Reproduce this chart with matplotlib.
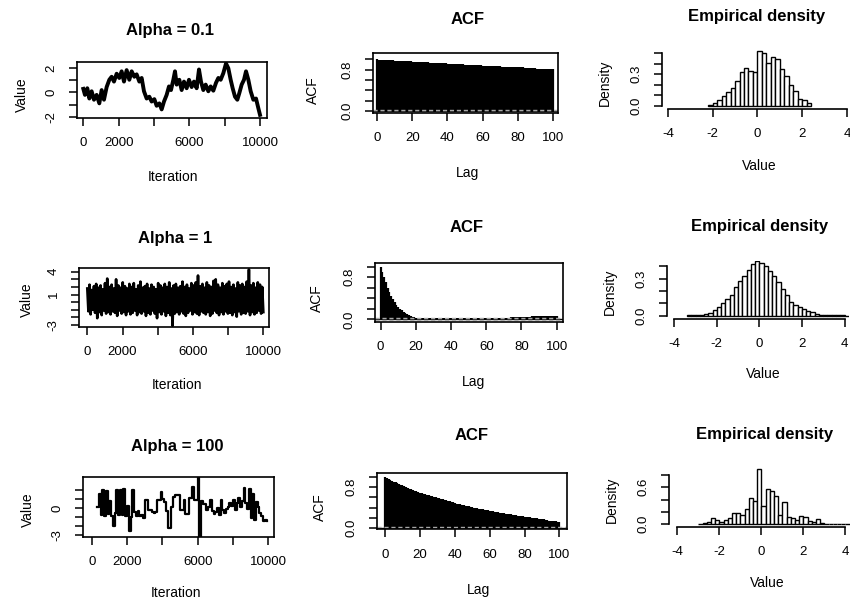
import numpy as np
import matplotlib
matplotlib.use("Agg")
import matplotlib.pyplot as plt

plt.rcParams["font.family"] = ["Liberation Sans", "DejaVu Sans"]
plt.rcParams["axes.linewidth"] = 1.2

# ---------------- data ----------------
row_titles = ["Alpha = 0.1", "Alpha = 1", "Alpha = 100"]

# trace, alpha = 0.1
trace_a01_iter = [0, 94, 226, 340, 472, 604, 755, 906, 1038, 1170,
                  1321, 1472, 1604, 1736, 1887, 2038, 2170, 2302, 2453, 2604,
                  2736, 2887, 3019, 3170, 3302, 3434, 3585, 3736, 3868, 4019,
                  4151, 4302, 4434, 4566, 4717, 4849, 4962, 5095, 5189, 5283,
                  5434, 5566, 5698, 5849, 5981, 6132, 6264, 6415, 6547, 6660,
                  6792, 6925, 7076, 7208, 7359, 7510, 7642, 7774, 7925, 8076,
                  8208, 8340, 8453, 8585, 8717, 8830, 8962, 9094, 9208, 9340,
                  9472, 9623, 9774, 9906, 10000]
trace_a01_value = [0.3, -0.2, 0.35, -0.5, 0.1, -0.6, -0.2, -0.9, 0.2, -0.6,
                   0.45, 1.05, 1.3, 0.9, 1.55, 1.2, 1.75, 0.9, 1.85, 1.05,
                   1.75, 1.3, 1.5, 0.9, 1.2, 0.1, -0.5, -0.35, -0.75, -0.55,
                   -1.1, -0.9, -1.4, -0.75, -0.2, 0.5, 0.2, 1.05, 1.75, 0.65,
                   1.05, 0.2, 0.9, 0.35, 1.05, 0.45, 0.9, 0.35, 1.9, 0.9,
                   0.2, 0.65, 0.1, 0.5, 0.15, 0.8, 1.2, 1.05, 1.6, 2.4,
                   2.0, 1.05, 0.35, -0.35, -0.6, -0.05, 0.65, 1.05, 1.75, 1.05,
                   0.1, -0.6, -0.5, -1.3, -1.85]

# trace, alpha = 1 (dense band: successive highs and lows)
trace_a1_upper = [1.8, 2.3, 1.6, 2.1, 2.4, 1.9, 2.2, 1.7, 2.5, 3.1,
                  2.0, 2.3, 1.8, 3.0, 2.2, 1.9, 2.6, 2.1, 1.8, 2.4,
                  2.0, 2.5, 1.7, 2.2, 2.7, 1.9, 2.1, 2.4, 1.8, 2.3,
                  2.0, 1.7, 2.5, 2.2, 1.9, 2.4, 2.0, 2.6, 1.8, 2.2,
                  2.4, 1.9, 2.1, 2.7, 2.0, 2.3, 1.8, 2.5, 2.2, 2.6,
                  3.5, 2.1, 2.4, 1.9, 2.6, 2.2, 2.0, 2.8, 3.0, 2.3,
                  1.9, 2.5, 2.1, 2.4, 2.7, 2.0, 2.3, 1.8, 2.6, 2.2,
                  2.4, 2.0, 2.7, 4.3, 2.2, 2.5, 1.9, 2.6, 2.3, 2.0]
trace_a1_lower = [-1.2, -1.6, -1.0, -1.4, -2.1, -1.3, -1.7, -1.1, -1.5, -1.3,
                  -1.6, -1.2, -1.4, -1.8, -1.1, -1.5, -1.3, -1.7, -1.2, -1.6,
                  -1.4, -1.1, -1.7, -1.3, -1.5, -1.2, -1.8, -1.4, -1.6, -1.1,
                  -1.5, -2.1, -1.3, -1.6, -1.2, -1.8, -1.4, -1.7, -3.1, -1.5,
                  -1.3, -1.6, -1.2, -1.5, -1.8, -1.4, -1.1, -1.6, -1.3, -1.5,
                  -1.7, -1.2, -1.4, -1.6, -1.3, -1.8, -1.5, -1.1, -1.4, -1.7,
                  -1.3, -1.6, -1.2, -1.5, -1.4, -1.7, -1.3, -1.9, -1.2, -1.6,
                  -1.4, -1.5, -1.2, -1.7, -1.3, -1.6, -1.4, -1.1, -1.5, -1.3]

# trace, alpha = 100 (sticky chain, one value per 100 iterations from 300)
trace_a100_start = 300
trace_a100_step = 100
trace_a100_value = [0.2, 1.6, -0.7, 2.0, -0.9, 1.9, -0.6, 0.8, -0.9, -2.0,
                    -0.5, 2.0, -0.7, 2.1, -0.8, 2.2, -0.9, 0.3, -2.6, -1.0,
                    2.0, -0.4, -0.9, -0.3, -0.9, -0.8, -1.1, 0.9, 0.9, -0.2,
                    -0.2, -0.4, -0.5, -0.4, 0.9, 0.9, 1.8, 1.0, 0.7, -0.3,
                    -2.2, -2.2, 0.2, 1.3, 1.5, 1.5, 1.5, -0.2, -0.2, 0.9,
                    -0.6, -0.6, 1.1, 1.1, 2.4, 0.9, 0.9, 5.0, -5.0, 0.8,
                    0.5, 0.5, -0.2, 0.2, 0.9, -0.3, -0.6, -0.4, 0.0, -0.7,
                    0.9, -0.2, -0.5, -0.1, 0.1, 0.6, 0.3, 0.9, -0.2, 0.6,
                    1.2, 0.2, 0.8, 2.3, 0.6, -0.1, 2.2, -1.1, 1.6, -1.3,
                    0.7, 0.2, -0.5, -0.9, -1.4, -1.3, -1.4]

# autocorrelations, lags 0..100
acf_a01 = [1.00, 0.99, 0.99, 0.99, 0.99, 0.98, 0.98, 0.98, 0.98, 0.98,
           0.97, 0.97, 0.97, 0.97, 0.97, 0.96, 0.96, 0.96, 0.96, 0.96,
           0.95, 0.95, 0.95, 0.95, 0.95, 0.94, 0.94, 0.94, 0.94, 0.94,
           0.93, 0.93, 0.93, 0.93, 0.93, 0.92, 0.92, 0.92, 0.92, 0.92,
           0.91, 0.91, 0.91, 0.91, 0.91, 0.90, 0.90, 0.90, 0.90, 0.90,
           0.89, 0.89, 0.89, 0.89, 0.89, 0.88, 0.88, 0.88, 0.88, 0.88,
           0.87, 0.87, 0.87, 0.87, 0.87, 0.86, 0.86, 0.86, 0.86, 0.86,
           0.86, 0.85, 0.85, 0.85, 0.85, 0.85, 0.85, 0.84, 0.84, 0.84,
           0.84, 0.84, 0.84, 0.84, 0.83, 0.83, 0.83, 0.83, 0.83, 0.83,
           0.83, 0.82, 0.82, 0.82, 0.82, 0.82, 0.82, 0.82, 0.81, 0.81,
           0.81]
acf_a1 = [1.00, 0.90, 0.80, 0.70, 0.60, 0.52, 0.45, 0.39, 0.33, 0.28,
          0.24, 0.20, 0.17, 0.14, 0.12, 0.10, 0.08, 0.06, 0.05, 0.04,
          0.03, 0.03, 0.02, 0.02, 0.02, 0.02, 0.02, 0.02, 0.02, 0.02,
          0.02, 0.02, 0.02, 0.02, 0.02, 0.02, 0.03, 0.03, 0.03, 0.03,
          0.03, 0.03, 0.03, 0.03, 0.03, 0.03, 0.03, 0.03, 0.03, 0.03,
          0.03, 0.03, 0.03, 0.03, 0.03, 0.03, 0.03, 0.03, 0.03, 0.03,
          0.03, 0.03, 0.03, 0.03, 0.03, 0.03, 0.03, 0.03, 0.03, 0.03,
          0.03, 0.03, 0.03, 0.03, 0.04, 0.04, 0.04, 0.04, 0.04, 0.04,
          0.05, 0.05, 0.05, 0.05, 0.05, 0.05, 0.06, 0.06, 0.06, 0.06,
          0.06, 0.06, 0.06, 0.06, 0.06, 0.06, 0.06, 0.06, 0.06, 0.06,
          0.06]
acf_a100 = [1.00, 0.97, 0.95, 0.93, 0.92, 0.90, 0.89, 0.87, 0.86, 0.84,
            0.83, 0.81, 0.80, 0.78, 0.77, 0.76, 0.74, 0.73, 0.72, 0.70,
            0.69, 0.68, 0.67, 0.66, 0.65, 0.64, 0.63, 0.62, 0.61, 0.60,
            0.59, 0.58, 0.57, 0.56, 0.55, 0.54, 0.53, 0.52, 0.51, 0.50,
            0.49, 0.48, 0.47, 0.47, 0.46, 0.45, 0.44, 0.43, 0.43, 0.42,
            0.41, 0.40, 0.40, 0.39, 0.38, 0.38, 0.37, 0.36, 0.36, 0.35,
            0.34, 0.34, 0.33, 0.32, 0.32, 0.31, 0.30, 0.30, 0.29, 0.28,
            0.28, 0.27, 0.27, 0.26, 0.25, 0.25, 0.24, 0.24, 0.23, 0.23,
            0.22, 0.22, 0.21, 0.21, 0.20, 0.20, 0.19, 0.19, 0.18, 0.18,
            0.17, 0.17, 0.16, 0.16, 0.15, 0.15, 0.15, 0.14, 0.14, 0.13,
            0.13]

# histograms (bin width 0.2), density heights
hist_bin_width = 0.2
hist_a01_first = -2.2
hist_a01_density = [0.01, 0.025, 0.06, 0.09, 0.13, 0.17, 0.24, 0.32, 0.36, 0.33,
                    0.32, 0.52, 0.50, 0.41, 0.46, 0.44, 0.35, 0.28, 0.20, 0.14,
                    0.07, 0.06, 0.025]
hist_a1_first = -3.4
hist_a1_density = [0.003, 0.004, 0.006, 0.008, 0.012, 0.025, 0.045, 0.07, 0.10, 0.135,
                   0.17, 0.235, 0.28, 0.32, 0.37, 0.42, 0.44, 0.43, 0.40, 0.36,
                   0.32, 0.27, 0.22, 0.17, 0.11, 0.085, 0.07, 0.055, 0.04, 0.027,
                   0.015, 0.008, 0.005, 0.004, 0.003, 0.002, 0.002, 0.001, 0.001, 0.001]
hist_a100_first = -3.0
hist_a100_density = [0.01, 0.015, 0.04, 0.10, 0.07, 0.04, 0.07, 0.11, 0.18, 0.18,
                     0.15, 0.25, 0.42, 0.37, 0.90, 0.29, 0.57, 0.54, 0.46, 0.15,
                     0.36, 0.12, 0.11, 0.07, 0.14, 0.12, 0.05, 0.03, 0.08, 0.015,
                     0.0, 0.0, 0.0, 0.0, 0.0, 0.0, 0.0, 0.0]

# ticks
iter_ticks = [0, 2000, 4000, 6000, 8000, 10000]
iter_labels = ["0", "2000", "", "6000", "", "10000"]
lag_ticks = [0, 20, 40, 60, 80, 100]
acf_yticks = [0.0, 0.2, 0.4, 0.6, 0.8, 1.0]
acf_ylabels = ["0.0", "", "", "", "0.8", ""]
value_ticks = [-4, -2, 0, 2, 4]
trace_yticks = [[-2, -1, 0, 1, 2], [-3, -2, -1, 0, 1, 2, 3, 4], [-3, -2, -1, 0, 1, 2]]
trace_ylabels = [["-2", "", "0", "", "2"],
                 ["-3", "", "", "", "1", "", "", "4"],
                 ["-3", "", "", "0", "", ""]]
hist_yticks = [[0.0, 0.1, 0.2, 0.3, 0.4, 0.5], [0.0, 0.1, 0.2, 0.3, 0.4],
               [0.0, 0.2, 0.4, 0.6, 0.8]]
hist_ylabels = [["0.0", "", "", "0.3", "", ""], ["0.0", "", "", "0.3", ""],
                ["0.0", "", "", "0.6", ""]]

# ---------------- layout (pixels) ----------------
W, H = 850, 601
fig = plt.figure(figsize=(W / 100, H / 100), dpi=100)
fig.patch.set_facecolor("white")

trace_boxes = [(77, 62, 267, 118), (79.3, 268.3, 269.3, 326.7), (83.3, 477.3, 274, 536.7)]
trace_xlims = [(-357, 10396), (-455, 10340), (-475, 10323)]
trace_ylims = [(-2.11, 2.52), (-3.22, 4.45), (-3.19, 3.48)]
trace_title_xy = [(170, 30), (175, 238), (177, 447)]
trace_xlab = [(173, 177), (177, 385), (176, 593)]
trace_ylab = [(22, 95), (27, 300), (28, 510)]

acf_boxes = [(373, 53, 558, 113), (375, 263, 563, 322), (376.7, 472.7, 566.7, 529.3)]
acf_xlims = [(-2.45, 103.0), (-3.2, 103.6), (-4.8, 104.2)]
acf_ylims = [(-0.039, 1.12), (-0.05, 1.07), (-0.02, 1.077)]
acf_title_xy = [(468, 20), (467, 228), (472, 436)]
acf_xlab = [(468, 173), (473, 382), (478, 590)]
acf_ylab = [(313, 90), (317, 298), (320, 507)]

hist_boxes = [(661.7, 50, 850.5, 109), (667, 261.4, 849.2, 318.5), (669.3, 465.7, 849.6, 527)]
hist_xlims = [(-4.28, 4.16), (-4.34, 4.22), (-4.38, 4.2)]
hist_ylims = [(-0.028, 0.528), (-0.023, 0.44), (-0.044, 0.95)]
hist_title_xy = [(757, 17), (760, 227), (765, 435)]
hist_xlab = [(759, 166), (763, 374), (767, 583)]
hist_ylab = [(605, 83), (610, 292), (612, 500)]


def add_px(box):
    l, t, r, b = box
    return fig.add_axes([l / W, 1 - b / H, (r - l) / W, (b - t) / H])


def decorate(ax, box, title, title_xy, xlabel, xlab, ylabel, ylab):
    l, t, r, b = box
    ax.set_title(title, x=(title_xy[0] - l) / (r - l), y=(b - title_xy[1]) / (b - t),
                 pad=0, va="center", fontsize=12, fontweight="bold")
    ax.set_xlabel(xlabel, fontsize=10)
    ax.xaxis.set_label_coords(xlab[0] / W, 1 - xlab[1] / H, transform=fig.transFigure)
    ax.xaxis.label.set_va("center")
    ax.set_ylabel(ylabel, fontsize=10)
    ax.yaxis.set_label_coords(ylab[0] / W, 1 - ylab[1] / H, transform=fig.transFigure)
    ax.yaxis.label.set_va("center")
    ax.tick_params(direction="out", length=6, width=1.1, pad=8, labelsize=9.5)
    for lbl in ax.get_yticklabels():
        lbl.set_rotation(90)
        lbl.set_va("center")


series_a1 = np.column_stack([trace_a1_upper, trace_a1_lower]).ravel()
series_a100 = np.array(trace_a100_value)
traces = [
    (np.array(trace_a01_iter), np.array(trace_a01_value), 2.8, "default"),
    (np.linspace(0, 10000, len(series_a1)), series_a1, 1.9, "default"),
    (trace_a100_start + trace_a100_step * np.arange(len(series_a100)), series_a100, 1.6, "steps-post"),
]
acfs = [acf_a01, acf_a1, acf_a100]
hists = [(hist_a01_first, hist_a01_density), (hist_a1_first, hist_a1_density),
         (hist_a100_first, hist_a100_density)]

for i in range(3):
    # ---- trace ----
    ax = add_px(trace_boxes[i])
    x, y, lw, ds = traces[i]
    ax.plot(x, y, color="black", lw=lw, drawstyle=ds)
    ax.set_xlim(*trace_xlims[i])
    ax.set_ylim(*trace_ylims[i])
    ax.set_xticks(iter_ticks, iter_labels)
    ax.set_yticks(trace_yticks[i], trace_ylabels[i])
    decorate(ax, trace_boxes[i], row_titles[i], trace_title_xy[i], "Iteration",
             trace_xlab[i], "Value", trace_ylab[i])

    # ---- ACF ----
    ax = add_px(acf_boxes[i])
    lags = np.arange(len(acfs[i]))
    ax.vlines(lags, 0, acfs[i], color="black", lw=1.6)
    ax.axhline(0, color="black", lw=1.0)
    ax.axhline(0.02, color="#a8a8a8", lw=1.0, ls=(0, (3, 2)))
    ax.axhline(-0.02, color="#a8a8a8", lw=1.0, ls=(0, (3, 2)))
    ax.set_xlim(*acf_xlims[i])
    ax.set_ylim(*acf_ylims[i])
    ax.set_xticks(lag_ticks, [str(v) for v in lag_ticks])
    ax.set_yticks(acf_yticks, acf_ylabels)
    decorate(ax, acf_boxes[i], "ACF", acf_title_xy[i], "Lag", acf_xlab[i], "ACF", acf_ylab[i])

    # ---- histogram ----
    ax = add_px(hist_boxes[i])
    first, dens = hists[i]
    lefts = first + hist_bin_width * np.arange(len(dens))
    ax.bar(lefts, dens, width=hist_bin_width, align="edge", color="white",
           edgecolor="black", lw=1.0)
    ax.set_xlim(*hist_xlims[i])
    ax.set_ylim(*hist_ylims[i])
    ax.set_xticks(value_ticks, [str(v) for v in value_ticks])
    ax.set_yticks(hist_yticks[i], hist_ylabels[i])
    for s in ("top", "right"):
        ax.spines[s].set_visible(False)
    ax.spines["bottom"].set_bounds(-4, 4)
    ax.spines["left"].set_bounds(0, hist_yticks[i][-1])
    ax.patch.set_alpha(0)
    decorate(ax, hist_boxes[i], "Empirical density", hist_title_xy[i], "Value",
             hist_xlab[i], "Density", hist_ylab[i])

fig.savefig("out.png", dpi=100, facecolor="white")
